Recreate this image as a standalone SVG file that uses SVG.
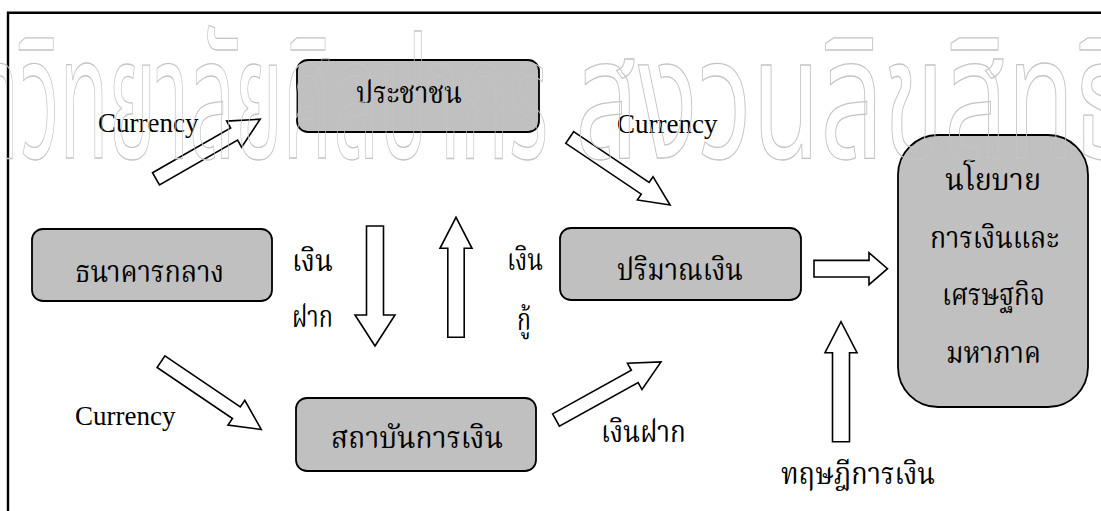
<svg xmlns="http://www.w3.org/2000/svg" width="1101" height="511" viewBox="0 0 1101 511">
<style>
.box{fill:#c0c0c0;stroke:#000;stroke-width:1.8}
.arr{fill:#fff;stroke:#000;stroke-width:1.6;stroke-linejoin:miter}
.th{font-family:"Noto Serif Thai","Noto Sans Thai","Noto Sans",serif;font-size:30px;font-weight:400;fill:#000}
.en{font-family:"Liberation Serif",serif;font-size:27px;fill:#000}
.wm{font-family:"Noto Sans Thai","Noto Sans",sans-serif;font-size:170px;fill:none;stroke:#c4c4c4;stroke-width:1.3}
</style>
<rect width="1101" height="511" fill="#fff"/>
<path d="M8 512 V12.8 H1102" fill="none" stroke="#000" stroke-width="2.4"/>

<g id="connectors">
<polygon class="arr" transform="translate(156,178.8) rotate(-29.78)" points="0,-7 90,-7 90,-15 120,0 90,15 90,7 0,7"/>
<polygon class="arr" transform="translate(569.7,137.5) rotate(33.94)" points="0,-7 91,-7 91,-14 121,0 91,14 91,7 0,7"/>
<polygon class="arr" transform="translate(375,226) rotate(90)" points="0,-8.5 89,-8.5 89,-20 120,0 89,20 89,8.5 0,8.5"/>
<polygon class="arr" transform="translate(456,337.3) rotate(-90)" points="0,-8.2 89,-8.2 89,-16 120,0 89,16 89,8.2 0,8.2"/>
<polygon class="arr" transform="translate(161,361.7) rotate(34.06)" points="0,-7 91,-7 91,-15 121,0 91,15 91,7 0,7"/>
<polygon class="arr" transform="translate(556,420) rotate(-28.97)" points="0,-7 90,-7 90,-15 120,0 90,15 90,7 0,7"/>
<polygon class="arr" transform="translate(814,268.7)" points="0,-8.3 55,-8.3 55,-16 73.5,0 55,16 55,8.3 0,8.3"/>
<polygon class="arr" transform="translate(841,441.7) rotate(-90)" points="0,-8.5 89,-8.5 89,-16 120,0 89,16 89,8.5 0,8.5"/>
</g>

<g id="node-people">
<rect class="box" x="297" y="60" width="242" height="72" rx="11"/>
<text class="th" x="356" y="103" textLength="106" lengthAdjust="spacingAndGlyphs">ประชาชน</text>
</g>
<g id="node-centralbank">
<rect class="box" x="32" y="229" width="240" height="72" rx="11"/>
<text class="th" x="75" y="282" textLength="149" lengthAdjust="spacingAndGlyphs">ธนาคารกลาง</text>
</g>
<g id="node-moneysupply">
<rect class="box" x="560" y="228" width="241" height="72" rx="11"/>
<text class="th" x="617" y="280" textLength="126" lengthAdjust="spacingAndGlyphs">ปริมาณเงิน</text>
</g>
<g id="node-fininst">
<rect class="box" x="296" y="398" width="240" height="73" rx="11"/>
<text class="th" x="331" y="448" textLength="172" lengthAdjust="spacingAndGlyphs">สถาบันการเงิน</text>
</g>
<g id="node-policy">
<rect class="box" x="898" y="135" width="190" height="272" rx="40"/>
<text class="th" x="945" y="190" textLength="96" lengthAdjust="spacingAndGlyphs">นโยบาย</text>
<text class="th" x="930" y="248" textLength="129" lengthAdjust="spacingAndGlyphs">การเงินและ</text>
<text class="th" x="942" y="305" textLength="103" lengthAdjust="spacingAndGlyphs">เศรษฐกิจ</text>
<text class="th" x="946" y="363" textLength="95" lengthAdjust="spacingAndGlyphs">มหาภาค</text>
</g>

<g id="labels">
<text class="en" x="98" y="132">Currency</text>
<text class="en" x="617" y="133">Currency</text>
<text class="en" x="75" y="425">Currency</text>
<text class="th" x="292" y="271" textLength="41" lengthAdjust="spacingAndGlyphs">เงิน</text>
<text class="th" x="292" y="327" textLength="41" lengthAdjust="spacingAndGlyphs">ฝาก</text>
<text class="th" x="507" y="270" textLength="36" lengthAdjust="spacingAndGlyphs">เงิน</text>
<text class="th" x="517" y="330" textLength="14" lengthAdjust="spacingAndGlyphs">กู้</text>
<text class="th" x="601" y="442" textLength="85" lengthAdjust="spacingAndGlyphs">เงินฝาก</text>
<text class="th" x="781" y="484" textLength="154" lengthAdjust="spacingAndGlyphs">ทฤษฎีการเงิน</text>
</g>

<g id="watermark">
<text class="wm" x="-90" y="158" textLength="108" lengthAdjust="spacingAndGlyphs">มหา</text>
<text class="wm" x="20" y="158" textLength="528" lengthAdjust="spacingAndGlyphs">วิทยาลัยศิลปากร</text>
<text class="wm" x="575" y="158" textLength="560" lengthAdjust="spacingAndGlyphs">สงวนลิขสิทธิ์</text>
</g>
</svg>
